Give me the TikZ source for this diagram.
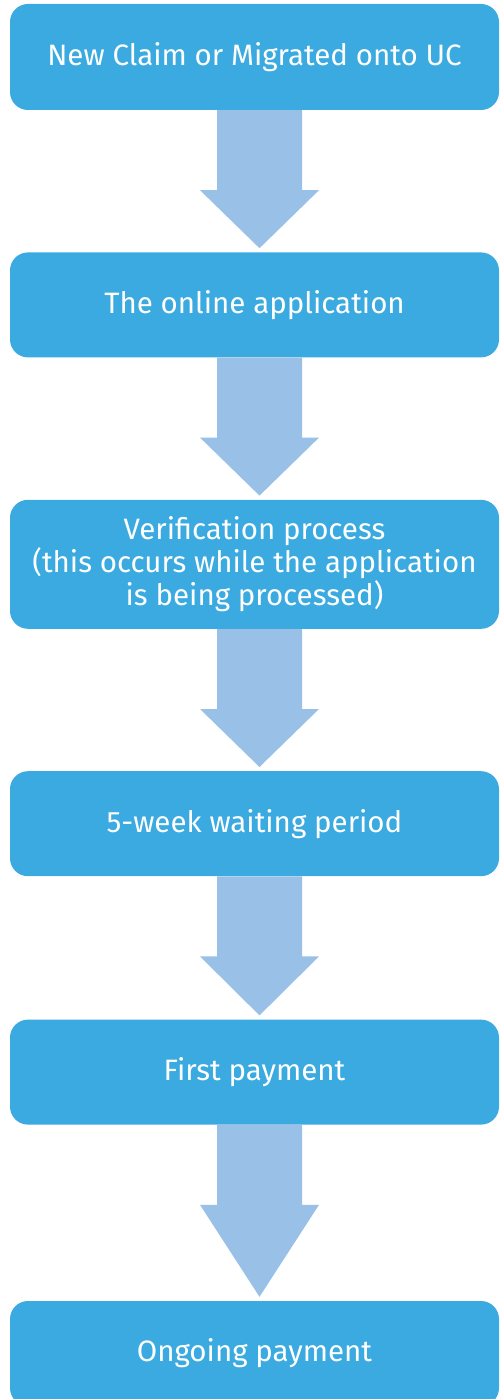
\documentclass[tikz,border=0pt]{standalone}
\usepackage{fontspec}
\setmainfont{Fira Sans}
\usetikzlibrary{positioning, calc}
\definecolor{ucblue}{RGB}{58, 170, 224}
\definecolor{ucarrow}{RGB}{153, 193, 231}

\begin{document}
\begin{tikzpicture}[
    node distance=142pt,
    stage/.style={rectangle, rounded corners=18pt, fill=ucblue, text=white, minimum width=489pt, minimum height=105pt, align=center, font=\fontsize{29.5}{33}\selectfont},
    bigarrow/.style={fill=ucarrow}
]
\useasboundingbox (0,0) rectangle (499pt,-1399pt);

% Stages
\node[stage, minimum height=106pt] (claim) at (254.5pt,-57pt) {New Claim or Migrated onto UC};
\node[stage, below=of claim] (online) {The online application};
\node[stage, minimum height=129pt, below=of online] (verify) {Verification process\\(this occurs while the application\\is being processed)};
\node[stage, below=of verify] (waiting) {5-week waiting period};
\node[stage, below=143pt of waiting] (first) {First payment};
\node[stage, below=176pt of first] (ongoing) {Ongoing payment};

% Arrows
\foreach \a/\b in {claim/online, online/verify, verify/waiting, waiting/first, first/ongoing}
  \fill[bigarrow] let \p1=($(\a.south)+(5pt,0)$), \p2=(\b.north) in
    (\x1-42.5pt,\y1) -- (\x1-42.5pt,\y1-80pt) -- (\x1-59.5pt,\y1-80pt) -- (\x1,\y2+4pt)
    -- (\x1+59.5pt,\y1-80pt) -- (\x1+42.5pt,\y1-80pt) -- (\x1+42.5pt,\y1) -- cycle;

\end{tikzpicture}
\end{document}
